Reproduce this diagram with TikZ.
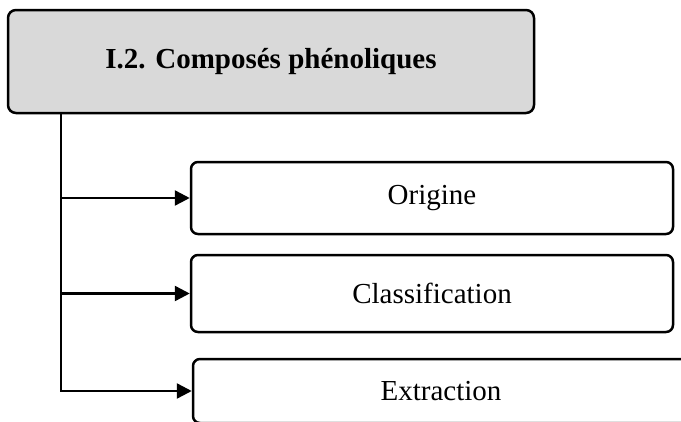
\documentclass[tikz,border=0pt]{standalone}
\usepackage{fontspec}
\setmainfont{Liberation Serif}
\usetikzlibrary{arrows.meta,positioning}
\definecolor{boxgray}{HTML}{D9D9D9}
\tikzset{
  titlebox/.style={draw, line width=2.5pt, rounded corners=8pt, fill=boxgray,
    minimum width=526pt, minimum height=103pt, inner sep=0pt,
    font=\fontsize{29}{34}\selectfont\bfseries},
  itembox/.style={draw, line width=2.5pt, rounded corners=7pt,
    minimum width=482pt, inner sep=0pt, font=\fontsize{29}{34}\selectfont},
  branch/.style={line width=2.5pt, -{Triangle[length=15pt,width=15pt]}}
}

\begin{document}
\begin{tikzpicture}[x=1pt,y=-1pt]
            \path[use as bounding box, clip] (0,0) rectangle (681,421);

            \node[titlebox] (title) at (271,61.5) {I.2. Composés phénoliques};
            \node[itembox, minimum height=72pt] (origine) at (432,198) {Origine};
            \node[itembox, minimum height=77pt] (classif) at (432,293.5) {Classification};
            \node[itembox, minimum width=496pt, minimum height=64pt] (extract) at (441,391) {Extraction};

            \coordinate (trunk) at (61,0);

            \draw[branch] (title.south -| trunk) |- (extract.west);
            \draw[branch] (trunk |- origine.west) -- (origine.west);
            \draw[branch] (trunk |- classif.west) -- (classif.west);
        \end{tikzpicture}
\end{document}
